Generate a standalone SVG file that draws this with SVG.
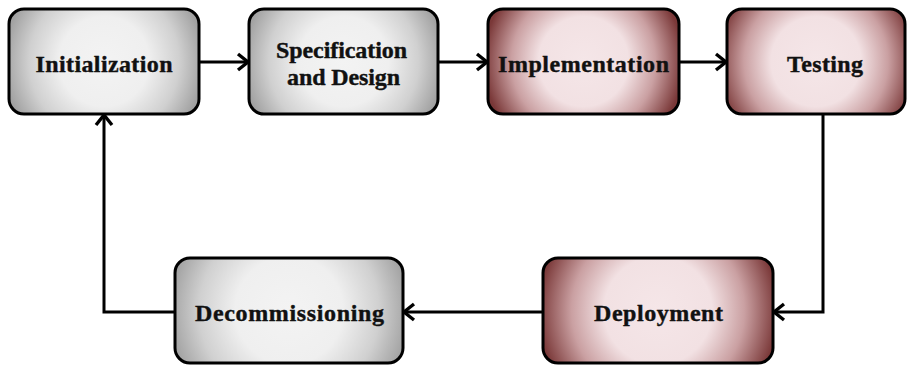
<svg xmlns="http://www.w3.org/2000/svg" width="907" height="365" viewBox="0 0 907 365">
  <defs>
    <!-- shared colour ramps; radius set per box size -->
    <radialGradient id="gGray" gradientUnits="userSpaceOnUse" cx="0" cy="0" r="100">
      <stop offset="0" stop-color="#f3f3f3"/>
      <stop offset="0.45" stop-color="#efefef"/>
      <stop offset="0.75" stop-color="#d0d0d0"/>
      <stop offset="1" stop-color="#a2a2a2"/>
    </radialGradient>
    <radialGradient id="gGrayL" href="#gGray" r="120"/>
    <radialGradient id="gRose" gradientUnits="userSpaceOnUse" cx="0" cy="0" r="100">
      <stop offset="0" stop-color="#f5e6e8"/>
      <stop offset="0.45" stop-color="#f2e1e3"/>
      <stop offset="0.72" stop-color="#caa0a2"/>
      <stop offset="1" stop-color="#7a3838"/>
    </radialGradient>
    <radialGradient id="gRoseL" href="#gRose" r="120"/>
    <marker id="arrow" markerUnits="userSpaceOnUse" markerWidth="24" markerHeight="24" viewBox="0 0 24 24" refX="20" refY="12" orient="auto">
      <path d="M9,4 L19,12 L9,20" fill="none" stroke="#000" stroke-width="3.4" stroke-linejoin="miter" stroke-linecap="butt"/>
    </marker>
  </defs>
  <style>
    .box { stroke: #000; stroke-width: 3; }
    .gray { fill: url(#gGray); }
    .rose { fill: url(#gRose); }
    .grayL { fill: url(#gGrayL); }
    .roseL { fill: url(#gRoseL); }
    .label { font-family: "Liberation Serif", "DejaVu Serif", serif; font-weight: bold; font-size: 24px; fill: #111; stroke: #111; stroke-width: 0.4; text-anchor: middle; }
    .edge { fill: none; stroke: #000; stroke-width: 3; marker-end: url(#arrow); }
  </style>

  <rect width="907" height="365" fill="#fff"/>

  <g id="connectors">
    <path class="edge" d="M199,62 H249"/>
    <path class="edge" d="M438,62 H488"/>
    <path class="edge" d="M679,62 H727"/>
    <path class="edge" d="M823,114 V312 H773"/>
    <path class="edge" d="M543,312 H403"/>
    <path class="edge" d="M175,312 H104 V114"/>
  </g>

  <g id="initialization" transform="translate(104,61.5)">
    <rect class="box gray" x="-95" y="-52.5" width="190" height="105" rx="15"/>
    <text class="label" x="0" y="10.5" textLength="137" lengthAdjust="spacing">Initialization</text>
  </g>

  <g id="specification" transform="translate(343.5,61.5)">
    <rect class="box gray" x="-94.5" y="-52.5" width="189" height="105" rx="15"/>
    <text class="label" x="-2" y="-3.5" textLength="131" lengthAdjust="spacing">Specification</text>
    <text class="label" x="0" y="23.5" textLength="113" lengthAdjust="spacing">and Design</text>
  </g>

  <g id="implementation" transform="translate(583.5,61.5)">
    <rect class="box rose" x="-95.5" y="-52.5" width="191" height="105" rx="15"/>
    <text class="label" x="0" y="10.5" textLength="171" lengthAdjust="spacing">Implementation</text>
  </g>

  <g id="testing" transform="translate(816,61.5)">
    <rect class="box rose" x="-89" y="-52.5" width="178" height="105" rx="15"/>
    <text class="label" x="9" y="10.5" textLength="76" lengthAdjust="spacing">Testing</text>
  </g>

  <g id="deployment" transform="translate(658,310.5)">
    <rect class="box roseL" x="-115" y="-52.5" width="230" height="105" rx="15"/>
    <text class="label" x="0.5" y="10.5" textLength="129" lengthAdjust="spacing">Deployment</text>
  </g>

  <g id="decommissioning" transform="translate(289,310.5)">
    <rect class="box grayL" x="-114" y="-52.5" width="228" height="105" rx="15"/>
    <text class="label" x="0.5" y="10.5" textLength="189" lengthAdjust="spacing">Decommissioning</text>
  </g>
</svg>
